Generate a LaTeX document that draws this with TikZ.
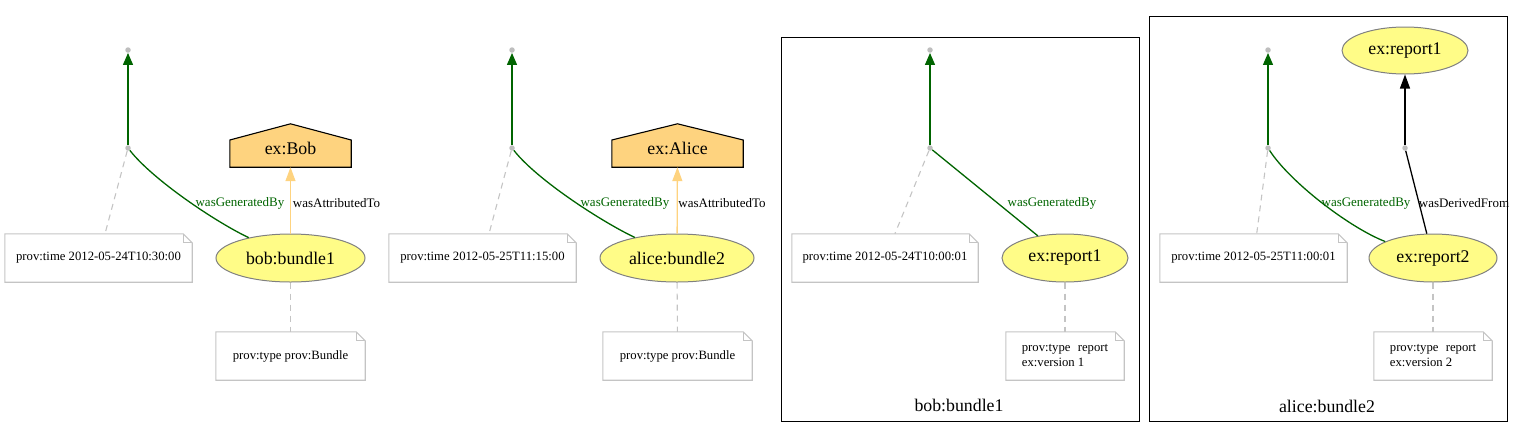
\documentclass[tikz,border=0pt]{standalone}
\usepackage{fontspec}
\setmainfont{Liberation Serif}
\usetikzlibrary{arrows.meta,shapes.geometric}
\pgfdeclarelayer{bg}
\pgfsetlayers{bg,main}
\definecolor{entfill}{HTML}{FFFC87}
\definecolor{entline}{HTML}{808080}
\definecolor{agfill}{HTML}{FED37F}
\definecolor{gengreen}{HTML}{006400}
\definecolor{notegray}{HTML}{C4C4C4}
\definecolor{dotgray}{HTML}{BEBEBE}
\tikzset{
  entity/.style={ellipse, draw=entline, fill=entfill, line width=1pt, inner sep=0pt,
    minimum width=#1, minimum height=48pt, font=\fontsize{17.8}{20}\selectfont},
  notenode/.style={draw=none, inner sep=0pt, minimum width=#1, minimum height=48pt,
    font=\fontsize{12.7}{15}\selectfont},
  housenode/.style={draw=none, inner sep=0pt, minimum width=#1, minimum height=38pt,
    font=\fontsize{17.8}{20}\selectfont},
  dotnode/.style={circle, fill=dotgray, draw=none, inner sep=0pt, minimum size=5.5pt},
  lbl/.style={font=\fontsize{13}{15}\selectfont, inner sep=0pt},
  genlbl/.style={lbl, text=gengreen},
  gen/.style={draw=gengreen, line width=1.3pt},
  genarrow/.style={gen, -{Triangle[width=10pt,length=12pt]}},
  attr/.style={draw=agfill, line width=1.3pt, -{Triangle[width=10pt,length=14pt]}},
  derline/.style={draw=black, line width=1.3pt},
  derarrow/.style={derline, -{Triangle[width=10pt,length=14pt]}},
  assoc/.style={draw=notegray, line width=1.1pt, dash pattern=on 6pt off 5pt},
  noteline/.style={draw=notegray, line width=1.1pt},
  cluster/.style={draw=black, line width=1pt, inner sep=0pt, minimum width=#1},
  clusterlbl/.style={font=\fontsize{17.8}{20}\selectfont, inner sep=0pt},
}
\newcommand{\notefold}[1]{%
  \draw[noteline] (#1.south west) -- (#1.north west) -- ([xshift=-9pt]#1.north east)
    -- ([yshift=-9pt]#1.north east) -- (#1.south east) -- cycle;
  \draw[noteline, line width=0.8pt] ([xshift=-9pt]#1.north east)
    -- ([xshift=-9pt,yshift=-9pt]#1.north east) -- ([yshift=-9pt]#1.north east);}
\newcommand{\housefill}[1]{%
  \draw[fill=agfill, draw=black, line width=1.1pt] (#1.south west) -- (#1.south east)
    -- ([yshift=8pt]#1.east) -- ([yshift=5pt]#1.north) -- ([yshift=8pt]#1.west) -- cycle;}
\begin{document}
\begin{tikzpicture}[x=1pt,y=-1pt]
\useasboundingbox (0,0) rectangle (1523,437);

% clusters
\node[cluster=358pt, minimum height=384pt] (c3) at (960,229) {};
\node[cluster=358pt, minimum height=405pt] (c4) at (1328,218.5) {};
\node[clusterlbl] (c3l) at (959,405) {bob:bundle1};
\node[clusterlbl] (c4l) at (1327,406) {alice:bundle2};

% ---------- group 1
\node[dotnode] (d1t) at (128,50) {};
\node[dotnode] (d1m) at (128,148) {};
\node[entity=149pt] (e1) at (290.5,258) {bob:bundle1};
\node[housenode=121pt] (h1) at (290.5,148) {ex:Bob};
\node[notenode=187pt] (n1t) at (98.5,258) {prov:time 2012-05-24T10:30:00};
\node[notenode=149pt] (n1p) at (290.5,356) {prov:type prov:Bundle};
\node[genlbl] (l1g) at (240,203) {wasGeneratedBy};
\node[lbl] (l1a) at (336.5,203) {wasAttributedTo};

% ---------- group 2
\node[dotnode] (d2t) at (512,50) {};
\node[dotnode] (d2m) at (512,148) {};
\node[entity=154pt] (e2) at (677,258) {alice:bundle2};
\node[housenode=131pt] (h2) at (677.5,148) {ex:Alice};
\node[notenode=187pt] (n2t) at (482.5,258) {prov:time 2012-05-25T11:15:00};
\node[notenode=149pt] (n2p) at (677.5,356) {prov:type prov:Bundle};
\node[genlbl] (l2g) at (625,203) {wasGeneratedBy};
\node[lbl] (l2a) at (722,203) {wasAttributedTo};

% ---------- group 3
\node[dotnode] (d3t) at (930,50) {};
\node[dotnode] (d3m) at (930,148) {};
\node[entity=126pt] (e3) at (1065,258) {ex:report1};
\node[notenode=186pt] (n3t) at (885,258) {prov:time 2012-05-24T10:00:01};
\node[notenode=118pt] (n3p) at (1065,356)
  {\begin{tabular}{@{}l@{\hspace{3pt}}l@{}}prov:type & report\\ ex:version & 1\end{tabular}};
\node[genlbl] (l3g) at (1052,203) {wasGeneratedBy};

% ---------- group 4
\node[dotnode] (d4t) at (1268,50) {};
\node[dotnode] (d4m) at (1268,148) {};
\node[entity=128pt] (e4) at (1433,258) {ex:report2};
\node[entity=126pt, minimum height=47pt] (r4) at (1405,50.5) {ex:report1};
\node[dotnode] (d4d) at (1405,148) {};
\node[notenode=187pt] (n4t) at (1253.5,258) {prov:time 2012-05-25T11:00:01};
\node[notenode=118pt] (n4p) at (1433,356)
  {\begin{tabular}{@{}l@{\hspace{3pt}}l@{}}prov:type & report\\ ex:version & 2\end{tabular}};
\node[genlbl] (l4g) at (1366,203) {wasGeneratedBy};
\node[lbl] (l4d) at (1464,203) {wasDerivedFrom};

% ---------- background shapes
\begin{pgfonlayer}{bg}
  \housefill{h1}
  \housefill{h2}
  \notefold{n1t}\notefold{n1p}
  \notefold{n2t}\notefold{n2p}
  \notefold{n3t}\notefold{n3p}
  \notefold{n4t}\notefold{n4p}
\end{pgfonlayer}

% ---------- connectors
% group 1
\draw[genarrow] (d1m) -- (d1t);
\draw[gen] (e1.154) .. controls +(-32,-15) and +(25,32) .. (d1m);
\draw[attr] (e1) -- (h1);
\draw[assoc] (d1m) -- (n1t);
\draw[assoc] (e1) -- (n1p);
% group 2
\draw[genarrow] (d2m) -- (d2t);
\draw[gen] (e2.154) .. controls +(-32,-15) and +(25,32) .. (d2m);
\draw[attr] (e2) -- (h2);
\draw[assoc] (d2m) -- (n2t);
\draw[assoc] (e2) -- (n2p);
% group 3
\draw[genarrow] (d3m) -- (d3t);
\draw[gen] (e3) -- (d3m);
\draw[assoc] (d3m) -- (n3t);
\draw[assoc] (e3) -- (n3p);
% group 4
\draw[genarrow] (d4m) -- (d4t);
\draw[gen] (e4.161) .. controls +(-36,-14) and +(22,34) .. (d4m);
\draw[derarrow] (d4d) -- (r4);
\draw[derline] (e4) -- (d4d);
\draw[assoc] (d4m) -- (n4t);
\draw[assoc] (e4) -- (n4p);
\end{tikzpicture}
\end{document}
